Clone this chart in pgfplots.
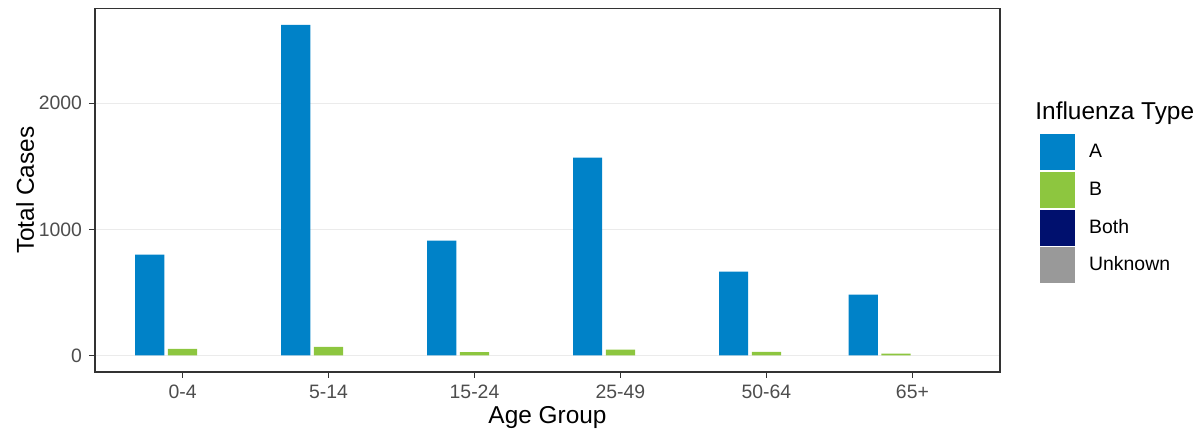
\documentclass[border=0pt]{standalone}
\usepackage{fontspec}
\setmainfont{Liberation Sans}
\usepackage{pgfplots}
\pgfplotsset{compat=1.18}
\definecolor{typeA}{HTML}{0082C8}
\definecolor{typeB}{HTML}{8DC63F}
\definecolor{typeBoth}{HTML}{00106E}
\definecolor{typeUnk}{HTML}{999999}
\definecolor{gridc}{HTML}{EBEBEB}
\definecolor{tickc}{HTML}{4D4D4D}
\definecolor{framec}{HTML}{333333}

\begin{document}
\begin{tikzpicture}
  \useasboundingbox (-47.5pt,-30pt) rectangle (554pt,186pt);
  \begin{axis}[
    at={(0,0)}, anchor=south west,
    scale only axis, width=452.5pt, height=181.75pt,
    clip=false,
    xmin=0.4, xmax=6.6,
    ymin=-131, ymax=2751,
    xtick={1,2,3,4,5,6},
    xticklabels={0-4,5-14,15-24,25-49,50-64,65+},
    ytick={0,1000,2000},
    scaled y ticks=false,
    /pgf/number format/assume math mode=true,
    /pgf/number format/1000 sep={},
    tick align=outside,
    major tick length=3pt,
    tick style={framec, line width=0.55pt},
    xtick pos=bottom, ytick pos=left,
    ymajorgrids,
    major grid style={gridc, line width=0.55pt},
    axis line style={framec, line width=0.55pt},
    ticklabel style={tickc, font=\fontsize{9.7}{11}\selectfont},
    xlabel={Age Group},
    ylabel={Total Cases},
    label style={font=\fontsize{12.2}{14}\selectfont},
    xlabel style={at={(axis description cs:0.5,-0.1265)}, anchor=center},
    ylabel style={at={(axis description cs:-0.0773,0.5)}, anchor=center},
    legend style={at={(axis description cs:1.0442,0.6548)}, anchor=north west,
      draw=none, fill=none, inner sep=0pt, row sep=0.9pt,
      font=\fontsize{9.7}{11}\selectfont,
      nodes={inner sep=0pt},
      /tikz/every odd column/.append style={column sep=7pt}},
    legend cell align=left,
  ]
    % Type A
    \addplot[ybar, bar width=0.2, bar shift=0pt, fill=typeA, draw=none, forget plot]
      coordinates {(0.775,800) (1.775,2621) (2.775,911) (3.775,1568) (4.775,665) (5.6625,483)};
    % Type B
    \addplot[ybar, bar width=0.2, bar shift=0pt, fill=typeB, draw=none, forget plot]
      coordinates {(1,53) (2,68) (3,26) (4,47) (5,29) (5.8875,14)};

    \addlegendimage{legend image code/.code={\fill[typeA] (0pt,-8.75pt) rectangle (17pt,8.75pt);}}
    \addlegendentry{A}
    \addlegendimage{legend image code/.code={\fill[typeB] (0pt,-8.75pt) rectangle (17pt,8.75pt);}}
    \addlegendentry{B}
    \addlegendimage{legend image code/.code={\fill[typeBoth] (0pt,-8.75pt) rectangle (17pt,8.75pt);}}
    \addlegendentry{Both}
    \addlegendimage{legend image code/.code={\fill[typeUnk] (0pt,-8.75pt) rectangle (17pt,8.75pt);}}
    \addlegendentry{Unknown}

    \node[anchor=west, inner sep=0pt, font=\fontsize{12.2}{14}\selectfont]
      at (rel axis cs:1.0387,0.7125) {Influenza Type};
  \end{axis}
\end{tikzpicture}
\end{document}
